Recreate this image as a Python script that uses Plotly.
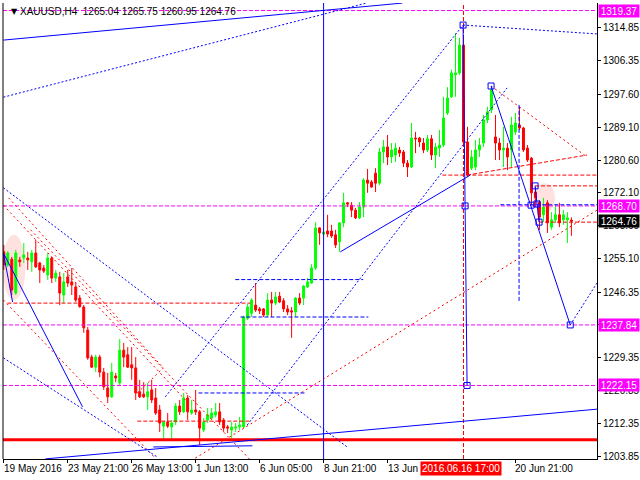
import plotly.graph_objects as go

# ---------------- data ----------------
bar_index = list(range(143))
opens = [1256.8,1253.4,1254.9,1246.1,1254.7,1255.2,1255.2,1254.2,1256.5,1253.9,
         1252.6,1250.8,1255.2,1250.0,1250.3,1245.6,1250.3,1249.0,1247.7,1244.8,
         1242.5,1236.5,1229.5,1226.9,1229.5,1225.6,1221.5,1219.2,1224.6,1222.8,
         1231.3,1230.1,1227.5,1226.7,1220.5,1219.9,1219.2,1221.0,1218.9,1215.8,
         1211.6,1212.7,1211.4,1212.7,1216.8,1215.3,1218.9,1215.0,1215.8,1215.3,
         1210.6,1213.2,1213.7,1214.5,1215.3,1213.2,1211.4,1210.6,1211.1,1211.4,
         1211.4,1239.6,1240.9,1243.0,1242.0,1242.0,1240.4,1244.3,1243.5,1245.3,
         1244.1,1242.0,1241.5,1241.2,1244.8,1244.8,1247.7,1248.7,1252.6,1263.0,
         1261.4,1262.2,1262.2,1261.2,1259.4,1264.3,1269.5,1268.9,1267.6,1265.6,
         1268.4,1275.4,1274.9,1277.2,1274.6,1282.7,1284.0,1281.4,1281.9,1283.2,
         1282.7,1279.8,1278.8,1286.3,1286.3,1285.0,1283.2,1286.1,1281.9,1283.7,
         1284.5,1292.8,1297.0,1302.7,1303.2,1310.4,1285.3,1278.5,1278.8,1283.2,
         1285.0,1291.0,1293.6,1286.6,1285.0,1283.2,1283.7,1283.2,1287.9,1289.7,
         1288.9,1283.7,1281.1,1272.3,1269.7,1266.4,1269.5,1263.2,1265.1,1266.4,
         1265.1,1265.1,1265.04]
highs = [1258.6,1257.0,1255.5,1257.3,1255.5,1259.1,1256.8,1257.3,1259.9,1254.2,
         1253.4,1256.5,1255.5,1252.1,1251.6,1251.3,1252.1,1252.6,1248.7,1245.6,
         1243.0,1237.3,1230.1,1230.1,1230.1,1226.7,1225.4,1228.0,1225.4,1234.2,
         1233.2,1232.1,1232.1,1229.5,1223.6,1223.0,1222.8,1223.6,1221.5,1217.1,
         1212.9,1215.0,1213.2,1217.6,1218.4,1220.2,1219.7,1218.4,1221.0,1215.8,
         1213.7,1216.3,1216.3,1217.6,1217.6,1213.7,1211.9,1212.7,1212.4,1214.0,
         1240.2,1243.3,1244.8,1248.7,1242.5,1242.2,1246.1,1246.4,1246.4,1246.4,
         1244.8,1243.0,1242.5,1245.1,1246.1,1248.2,1250.0,1253.6,1264.5,1263.2,
         1262.2,1266.4,1263.8,1262.5,1264.5,1272.1,1269.7,1269.7,1268.2,1269.7,
         1275.9,1278.3,1275.4,1278.5,1283.7,1285.8,1287.1,1285.0,1285.0,1284.0,
         1283.2,1280.6,1290.2,1287.9,1286.6,1286.3,1287.1,1287.1,1285.0,1288.4,
         1297.0,1299.5,1304.0,1313.5,1312.3,1313.0,1289.2,1283.2,1285.8,1286.3,
         1292.3,1294.4,1299.5,1292.3,1286.3,1289.2,1285.0,1291.8,1292.8,1294.4,
         1289.2,1284.5,1281.4,1273.6,1270.2,1270.8,1270.2,1267.1,1268.9,1269.5,
         1267.6,1267.1,1265.75]
lows = [1252.1,1252.9,1245.6,1245.6,1252.9,1253.9,1252.1,1251.6,1252.6,1248.7,
        1251.3,1249.5,1248.7,1249.0,1243.0,1243.5,1247.7,1245.6,1243.8,1242.3,
        1235.8,1228.8,1226.7,1225.6,1224.3,1221.0,1217.6,1218.9,1223.0,1222.3,
        1226.9,1226.7,1223.6,1218.4,1218.9,1218.9,1215.8,1217.6,1214.5,1210.1,
        1208.0,1211.1,1208.0,1211.9,1214.5,1215.0,1213.2,1214.5,1214.5,1206.7,
        1210.1,1212.4,1213.2,1213.9,1211.9,1210.1,1209.8,1208.5,1210.1,1210.6,
        1211.1,1239.1,1239.9,1241.2,1240.7,1239.9,1239.9,1239.9,1243.0,1243.5,
        1241.2,1240.4,1234.5,1239.9,1243.0,1243.0,1247.4,1248.5,1252.1,1258.6,
        1261.2,1260.6,1260.4,1257.8,1256.8,1263.2,1268.4,1265.8,1265.3,1265.3,
        1265.8,1272.1,1273.4,1272.3,1274.1,1279.8,1279.3,1279.8,1280.1,1281.4,
        1278.8,1276.2,1278.5,1282.4,1284.0,1282.4,1282.7,1280.6,1278.5,1281.4,
        1284.0,1292.3,1296.7,1297.0,1302.7,1284.5,1276.2,1278.0,1278.0,1281.4,
        1284.0,1290.2,1292.8,1280.6,1280.6,1278.8,1278.0,1278.8,1287.1,1288.4,
        1282.7,1280.1,1268.9,1268.4,1262.5,1264.5,1261.7,1262.5,1264.3,1263.2,
        1263.8,1259.1,1260.95]
closes = [1253.4,1256.5,1246.9,1256.5,1254.2,1256.0,1254.7,1256.5,1252.9,1252.1,
          1251.8,1255.2,1250.0,1251.3,1246.1,1249.0,1248.7,1248.2,1244.3,1242.6,
          1237.1,1229.3,1226.9,1229.5,1225.6,1221.8,1219.2,1225.6,1224.1,1231.3,
          1229.5,1226.9,1226.7,1220.2,1219.2,1219.2,1220.5,1218.4,1215.0,1212.4,
          1212.7,1211.6,1212.4,1216.8,1215.3,1218.9,1215.3,1215.8,1215.3,1211.1,
          1212.7,1214.5,1215.0,1215.3,1212.7,1211.1,1211.1,1211.4,1211.4,1211.9,
          1239.9,1242.5,1244.3,1241.7,1241.5,1240.4,1244.3,1243.5,1245.1,1243.8,
          1242.0,1241.2,1241.2,1244.8,1243.5,1247.9,1249.0,1252.6,1263.0,1261.7,
          1261.9,1261.4,1260.9,1258.6,1264.3,1269.5,1269.2,1267.6,1265.6,1268.4,
          1275.4,1274.6,1273.6,1274.6,1282.7,1284.0,1281.4,1283.2,1283.7,1282.4,
          1279.8,1278.8,1286.3,1286.1,1285.3,1283.2,1286.1,1281.9,1284.0,1284.5,
          1291.5,1296.7,1303.2,1303.2,1310.4,1285.3,1276.7,1281.4,1283.2,1284.5,
          1291.0,1293.1,1298.8,1285.0,1283.2,1283.7,1281.4,1289.7,1290.2,1288.9,
          1283.2,1280.6,1272.1,1270.8,1265.8,1268.4,1264.3,1265.1,1266.4,1264.3,
          1266.4,1265.6,1264.76]

tick_bars = [0, 16, 32, 48, 64, 80, 96, 128]
tick_labels = ["19 May 2016", "23 May 21:00", "26 May 13:00", "1 Jun 13:00",
               "6 Jun 05:00", "8 Jun 21:00", "13 Jun 13:00", "20 Jun 21:00"]
price_ticks = [1314.85, 1306.35, 1297.60, 1289.10, 1280.60, 1272.10, 1263.60,
               1255.10, 1246.35, 1237.85, 1229.35, 1220.85, 1212.35, 1203.85]
magenta_levels = [1319.37, 1268.70, 1237.84, 1222.15]
last_price = 1264.76
support_level = 1208.1
title_text = "XAUUSD,H4  1265.04 1265.75 1260.95 1264.76"
marked_bar = 115
marked_label = "2016.06.16 17:00"
vline_bar = 80

# drawn objects: (bar, price) vertices
blue_solid = [
    [(-0.1, 1311.7), (99.7, 1321.3)],
    [(-0.1, 1256.5), (19.7, 1216.6)],
    [(-0.1, 1256.5), (2.2, 1243.8)],
    [(84.2, 1256.8), (116.7, 1276.7)],
    [(10.4, 1203.1), (148.4, 1216.0)],
    [(37.4, 1206.2), (62.2, 1206.5)],
    [(114.9, 1315.6), (115.4, 1268.70), (115.9, 1222.15)],
    [(121.9, 1299.8), (141.7, 1237.84)],
    [(132.9, 1273.9), (133.4, 1269.2), (133.9, 1264.5)],
]
blue_dotted = [
    [(-0.1, 1296.9), (90.7, 1321.3)],
    [(114.9, 1315.6), (148.4, 1313.3)],
    [(40.4, 1219.2), (114.9, 1315.6)],
    [(60.9, 1211.9), (125.9, 1299.3)],
    [(141.7, 1237.84), (148.4, 1248.7)],
    [(-0.1, 1229.3), (38.4, 1203.6)],
    [(-0.1, 1273.4), (85.9, 1206.2)],
]
blue_dashed = [
    [(57.9, 1249.6), (89.9, 1249.6)],
    [(59.2, 1239.9), (91.2, 1239.9)],
    [(48.7, 1220.2), (75.4, 1220.2)],
    [(124.2, 1269.0), (148.4, 1269.0)],
    [(128.9, 1294.9), (128.9, 1243.8)],
]
red_dashed = [
    [(0.9, 1243.5), (61.7, 1243.5)],
    [(33.4, 1212.9), (61.7, 1212.9)],
    [(109.7, 1276.7), (148.4, 1276.7)],
    [(132.9, 1273.9), (148.4, 1273.9)],
    [(133.9, 1264.5), (148.4, 1264.5)],
    [(115.9, 1276.7), (145.9, 1281.9)],
]
red_dotted = [
    [(121.9, 1299.8), (145.9, 1281.4)],
    [(47.9, 1203.3), (148.4, 1267.6)],
    [(33.4, 1220.2), (39.9, 1226.7)],
    [(1.2, 1270.8), (39.9, 1226.7)],
    [(-0.1, 1268.9), (45.4, 1218.4)],
    [(6.7, 1262.5), (61.7, 1202.8)],
    [(-0.1, 1244.3), (37.9, 1203.3)],
]
square_points = [(114.9, 1315.6), (115.4, 1268.70), (115.9, 1222.15), (121.9, 1299.8),
                 (132.9, 1273.9), (131.9, 1268.9), (133.4, 1269.2), (133.9, 1264.5),
                 (141.7, 1237.84)]
highlight_zones = [((-0.3, 5.4), (1244.3, 1261.2)), ((132.4, 137.9), (1267.0, 1274.6))]

# ---------------- figure ----------------
X_RANGE = [-0.2, 148.4]
Y_RANGE = [1203.08, 1321.32]
BLUE, RED, MAG = "#0000FF", "#FF0000", "#FF00FF"
FONT = "Liberation Sans"

fig = go.Figure()

for (x0, x1), (y0, y1) in highlight_zones:
    fig.add_shape(type="circle", xref="x", yref="y", x0=x0, x1=x1, y0=y0, y1=y1,
                  fillcolor="rgba(255,190,185,0.45)", line=dict(width=0), layer="below")

fig.add_trace(go.Candlestick(
    x=bar_index, open=opens, high=highs, low=lows, close=closes,
    increasing=dict(line=dict(color="#00FF00", width=1), fillcolor="#00FF00"),
    decreasing=dict(line=dict(color="#FF0000", width=1), fillcolor="#FF0000"),
    hoverinfo="skip", showlegend=False))


def add_lines(groups, color, dash, width=1):
    for pts in groups:
        fig.add_trace(go.Scatter(x=[p[0] for p in pts], y=[p[1] for p in pts],
                                 mode="lines", line=dict(color=color, dash=dash, width=width),
                                 hoverinfo="skip", showlegend=False))


for lvl in magenta_levels:
    add_lines([[(X_RANGE[0], lvl), (X_RANGE[1], lvl)]], MAG, "4px,2px")
add_lines([[(X_RANGE[0], support_level), (X_RANGE[1], support_level)]], RED, "solid", 3)
add_lines([[(vline_bar, Y_RANGE[0]), (vline_bar, Y_RANGE[1])]], BLUE, "solid")
add_lines([[(marked_bar, Y_RANGE[0]), (marked_bar, Y_RANGE[1])]], RED, "4px,2px")
add_lines(red_dotted, RED, "2px,3px")
add_lines(red_dashed, RED, "4px,2px")
add_lines(blue_dotted, BLUE, "2px,2px")
add_lines(blue_dashed, BLUE, "4px,2px")
add_lines(blue_solid, BLUE, "solid")

fig.add_trace(go.Scatter(x=[p[0] for p in square_points], y=[p[1] for p in square_points],
                         mode="markers", marker=dict(symbol="square-open", size=6,
                                                     color=BLUE, line=dict(width=1, color=BLUE)),
                         hoverinfo="skip", showlegend=False))

fig.update_layout(
    width=640, height=480,
    margin=dict(l=3, r=43, t=3, b=21),
    paper_bgcolor="white", plot_bgcolor="white",
    showlegend=False, boxgap=0.3,
    xaxis=dict(range=X_RANGE, rangeslider=dict(visible=False), showgrid=False,
               zeroline=False, showline=True, linecolor="black", linewidth=1,
               ticks="outside", ticklen=3, tickcolor="black", tickvals=tick_bars,
               showticklabels=False, fixedrange=True, automargin=False),
    yaxis=dict(range=Y_RANGE, side="right", showgrid=False, zeroline=False,
               showline=True, linecolor="black", linewidth=1, ticks="outside",
               ticklen=3, tickcolor="black", tickvals=price_ticks,
               ticktext=[f"{v:.2f}" for v in price_ticks], automargin=False,
               tickfont=dict(family=FONT, size=10, color="black"), fixedrange=True),
)

fig.add_shape(type="line", xref="paper", yref="paper", x0=0, x1=0, y0=0, y1=1,
              line=dict(color="black", width=1))

ann = []
for b, t in zip(tick_bars, tick_labels):
    ann.append(dict(x=b, xref="x", y=0, yref="paper", text=t, showarrow=False,
                    xanchor="left", yanchor="top", xshift=-2, yshift=-2,
                    font=dict(family=FONT, size=10, color="black")))
ann.append(dict(x=marked_bar, xref="x", y=0, yref="paper", text=marked_label, showarrow=False,
                xanchor="center", yanchor="top", xshift=-2, yshift=-2, bgcolor=RED,
                borderpad=1, font=dict(family=FONT, size=10, color="white")))
for lvl in magenta_levels:
    ann.append(dict(x=1, xref="paper", y=lvl, yref="y", text=f"{lvl:.2f}", showarrow=False,
                    xanchor="left", yanchor="middle", xshift=1, bgcolor=MAG, width=38,
                    height=10, borderpad=1, font=dict(family=FONT, size=10, color="white")))
ann.append(dict(x=1, xref="paper", y=last_price, yref="y", text=f"{last_price:.2f}",
                showarrow=False, xanchor="left", yanchor="middle", xshift=1, bgcolor="black",
                width=38, height=10, borderpad=1, font=dict(family=FONT, size=10, color="white")))
ann.append(dict(x=0, xref="paper", y=1, yref="paper", text="▼", showarrow=False,
                xanchor="left", yanchor="top", xshift=6, yshift=-2,
                font=dict(family="DejaVu Sans", size=8, color="black")))
ann.append(dict(x=0, xref="paper", y=1, yref="paper", text=title_text, showarrow=False,
                xanchor="left", yanchor="top", xshift=15, yshift=-1,
                font=dict(family=FONT, size=10, color="black")))
fig.update_layout(annotations=ann)

fig.write_html("out.html", config={"displayModeBar": False},
               post_script="document.body.style.margin='0px';")
